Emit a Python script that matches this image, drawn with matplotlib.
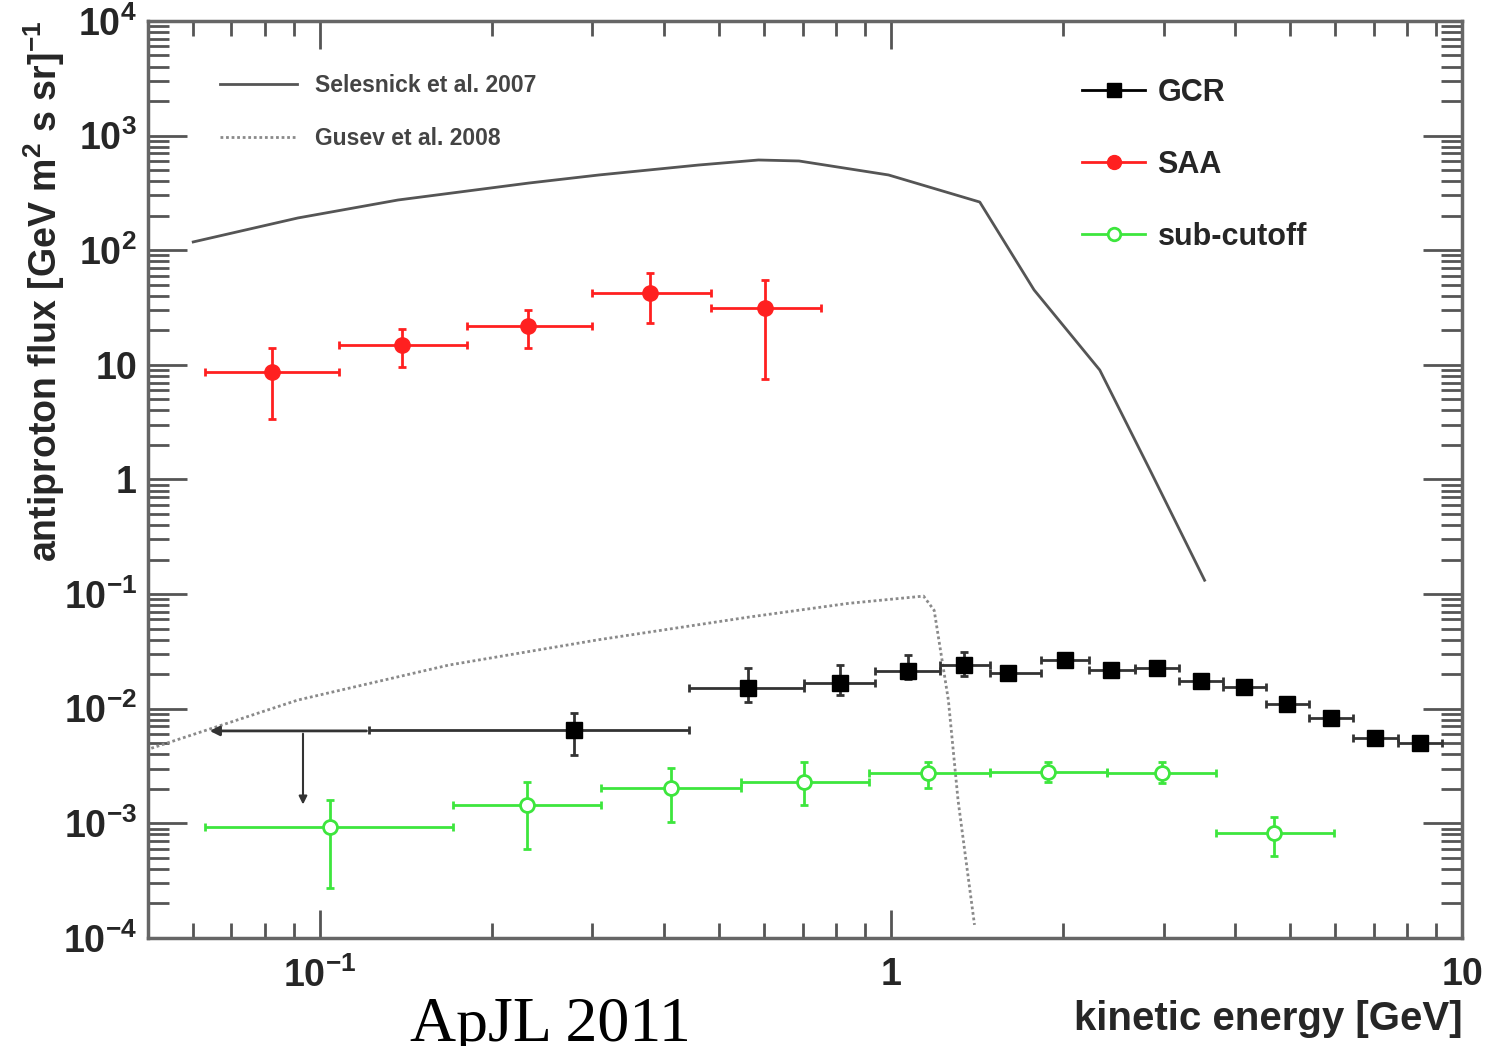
import numpy as np
import matplotlib
matplotlib.use("Agg")
import matplotlib.pyplot as plt
from matplotlib.lines import Line2D
from matplotlib.ticker import LogLocator, NullFormatter, FixedLocator, FixedFormatter

plt.rcParams['font.family'] = ['Liberation Sans', 'DejaVu Sans']
plt.rcParams['mathtext.fontset'] = 'custom'
plt.rcParams['mathtext.rm'] = 'Liberation Sans:bold'
plt.rcParams['mathtext.it'] = 'Liberation Sans:bold'
plt.rcParams['mathtext.bf'] = 'Liberation Sans:bold'

# --- model curves ---
sel_e = [0.060, 0.0915, 0.137, 0.232, 0.308, 0.46, 0.586, 0.69, 0.99, 1.43, 1.78, 2.32, 2.84, 3.54]
sel_f = [118, 191, 274, 385, 453, 553, 612, 600, 453, 263, 45, 9.0, 1.21, 0.132]

gus_e = [0.0496, 0.0915, 0.168, 0.308, 0.564, 0.843, 1.14, 1.19, 1.26, 1.31, 1.40]
gus_f = [0.00436, 0.0119, 0.024, 0.040, 0.063, 0.083, 0.096, 0.072, 0.0119, 0.0016, 0.00013]

# --- SAA (red) ---
saa_e = [0.0824, 0.139, 0.231, 0.379, 0.601]
saa_lo = [0.0628, 0.108, 0.181, 0.299, 0.483]
saa_hi = [0.108, 0.181, 0.299, 0.483, 0.753]
saa_f = [8.65, 14.9, 21.8, 42.4, 31.3]
saa_up = [14.0, 20.5, 30.1, 63.2, 55.0]
saa_dn = [3.37, 9.5, 14.0, 23.2, 7.5]

# --- GCR (black) ---
gcr_e = [0.278, 0.561, 0.814, 1.07, 1.34, 1.60, 2.02, 2.43, 2.92, 3.49, 4.15, 4.94, 5.89, 7.03, 8.43]
gcr_lo = [0.122, 0.443, 0.703, 0.938, 1.22, 1.49, 1.83, 2.22, 2.67, 3.19, 3.81, 4.53, 5.39, 6.44, 7.72]
gcr_hi = [0.443, 0.703, 0.938, 1.22, 1.49, 1.83, 2.22, 2.67, 3.19, 3.81, 4.53, 5.39, 6.44, 7.72, 9.23]
gcr_f = [0.0065, 0.0151, 0.0167, 0.0213, 0.024, 0.0204, 0.0265, 0.0217, 0.0226, 0.0174, 0.0155, 0.011, 0.0083, 0.00553, 0.0050]
gcr_up = [0.00916, 0.0226, 0.024, 0.0294, 0.031, 0.0225, 0.029, 0.0235, 0.0245, 0.0188, 0.0167, 0.0118, 0.0089, 0.0059, 0.0053]
gcr_dn = [0.00394, 0.0115, 0.0132, 0.0181, 0.0193, 0.0185, 0.0242, 0.0200, 0.0208, 0.0161, 0.0144, 0.0102, 0.0077, 0.0052, 0.0047]

# GCR upper limit at lowest energy
ul_e, ul_lo, ul_hi = 0.0934, 0.0634, 0.122
ul_f, ul_tip = 0.0064, 0.00138

# --- sub-cutoff (green) ---
sub_e = [0.104, 0.230, 0.411, 0.703, 1.16, 1.88, 2.98, 4.68]
sub_lo = [0.063, 0.171, 0.311, 0.546, 0.914, 1.49, 2.39, 3.70]
sub_hi = [0.171, 0.311, 0.546, 0.914, 1.49, 2.39, 3.70, 5.96]
sub_f = [0.00093, 0.00144, 0.00203, 0.00229, 0.00274, 0.0028, 0.00274, 0.00082]
sub_up = [0.0016, 0.00229, 0.00303, 0.00342, 0.0034, 0.0034, 0.0034, 0.00113]
sub_dn = [0.000272, 0.000596, 0.00102, 0.00144, 0.00204, 0.0023, 0.00225, 0.00052]

RED = '#ff2020'
GREEN = '#3de63d'
TXT = '#262626'


def errs(e, lo, hi, f, up, dn):
    e, lo, hi = np.array(e), np.array(lo), np.array(hi)
    f, up, dn = np.array(f), np.array(up), np.array(dn)
    return [e - lo, hi - e], [f - dn, up - f]


fig = plt.figure(figsize=(14.92, 10.46), dpi=100)
ax = fig.add_axes([0.0992, 0.1033, 0.8808, 0.8767])
ax.set_xscale('log')
ax.set_yscale('log')
ax.set_xlim(0.05, 10)
ax.set_ylim(1e-4, 1e4)

ax.plot(sel_e, sel_f, color='#555555', lw=2)
ax.plot(gus_e, gus_f, color='#8a8a8a', lw=2, ls=(0, (1, 1)))

xe, ye = errs(saa_e, saa_lo, saa_hi, saa_f, saa_up, saa_dn)
ax.errorbar(saa_e, saa_f, xerr=xe, yerr=ye, fmt='o', color=RED, ms=11,
            elinewidth=2, capsize=3, capthick=2)

xe, ye = errs(gcr_e, gcr_lo, gcr_hi, gcr_f, gcr_up, gcr_dn)
ax.errorbar(gcr_e, gcr_f, xerr=xe, yerr=ye, fmt='s', color='black', ecolor='#333333',
            ms=11, elinewidth=2, capsize=3, capthick=2)

ax.annotate('', xy=(ul_lo, ul_f), xytext=(ul_hi, ul_f),
            arrowprops=dict(arrowstyle='-|>', color='#333333', lw=2, mutation_scale=14))
ax.annotate('', xy=(ul_e, ul_tip), xytext=(ul_e, ul_f),
            arrowprops=dict(arrowstyle='-|>', color='#333333', lw=1.5, mutation_scale=12))

xe, ye = errs(sub_e, sub_lo, sub_hi, sub_f, sub_up, sub_dn)
ax.errorbar(sub_e, sub_f, xerr=xe, yerr=ye, fmt='o', color=GREEN, mfc='white', mec=GREEN,
            mew=2, ms=10, elinewidth=2, capsize=3, capthick=2)

# ticks
ax.yaxis.set_major_locator(FixedLocator([1e-4, 1e-3, 1e-2, 1e-1, 1, 10, 1e2, 1e3, 1e4]))
ax.yaxis.set_major_formatter(FixedFormatter(
    [r'$10^{-4}$', r'$10^{-3}$', r'$10^{-2}$', r'$10^{-1}$', '1', '10',
     r'$10^{2}$', r'$10^{3}$', r'$10^{4}$']))
ax.yaxis.set_minor_locator(LogLocator(base=10, subs=np.arange(2, 10), numticks=50))
ax.yaxis.set_minor_formatter(NullFormatter())
ax.xaxis.set_major_locator(FixedLocator([0.1, 1, 10]))
ax.xaxis.set_major_formatter(FixedFormatter([r'$10^{-1}$', '1', '10']))
ax.xaxis.set_minor_locator(LogLocator(base=10, subs=np.arange(2, 10), numticks=50))
ax.xaxis.set_minor_formatter(NullFormatter())

ax.tick_params(axis='both', which='both', direction='in', top=True, right=True,
               color='#555555', width=2)
ax.tick_params(axis='y', which='major', length=28, pad=8)
ax.tick_params(axis='y', which='minor', length=15)
ax.tick_params(axis='x', which='major', length=20, pad=14)
ax.tick_params(axis='x', which='minor', length=11)
for lab in ax.get_xticklabels() + ax.get_yticklabels():
    lab.set_fontsize(27)
    lab.set_fontweight('bold')
    lab.set_color(TXT)

for sp in ax.spines.values():
    sp.set_color('#666666')
    sp.set_linewidth(2.5)

ax.set_ylabel(r'antiproton flux [GeV m$^{2}$ s sr]$^{-1}$', fontsize=27,
              fontweight='bold', color=TXT, loc='top')
ax.yaxis.set_label_coords(-0.062, 1.0)
ax.set_xlabel('kinetic energy [GeV]', fontsize=29, fontweight='bold', color=TXT, loc='right')
ax.xaxis.set_label_coords(1.0, -0.068)

# legends
h1 = [Line2D([], [], color='#555555', lw=2),
      Line2D([], [], color='#8a8a8a', lw=2, ls=(0, (1, 1)))]
leg1 = ax.legend(h1, ['Selesnick et al. 2007', 'Gusev et al. 2008'], loc='upper left',
                 bbox_to_anchor=(0.0548, 0.9416), frameon=False,
                 borderpad=0, borderaxespad=0,
                 handlelength=3.35, labelspacing=1.3, handletextpad=0.8,
                 prop=dict(weight='bold', size=16.5))
for t in leg1.get_texts():
    t.set_color('#444444')
ax.add_artist(leg1)

h2 = [Line2D([], [], color='black', lw=2, marker='s', ms=10),
      Line2D([], [], color=RED, lw=2, marker='o', ms=10),
      Line2D([], [], color=GREEN, lw=2, marker='o', ms=9, mfc='white', mew=2)]
leg2 = ax.legend(h2, ['GCR', 'SAA', 'sub-cutoff'], loc='upper left',
                 bbox_to_anchor=(0.711, 0.938), frameon=False,
                 borderpad=0, borderaxespad=0,
                 handlelength=2.06, labelspacing=1.38, handletextpad=0.4,
                 prop=dict(weight='bold', size=22))
for t in leg2.get_texts():
    t.set_color(TXT)

fig.text(0.275, 0.005, 'ApJL 2011', fontsize=46, family='Liberation Serif',
         color='black', va='baseline')

fig.savefig('out.png', dpi=100)
